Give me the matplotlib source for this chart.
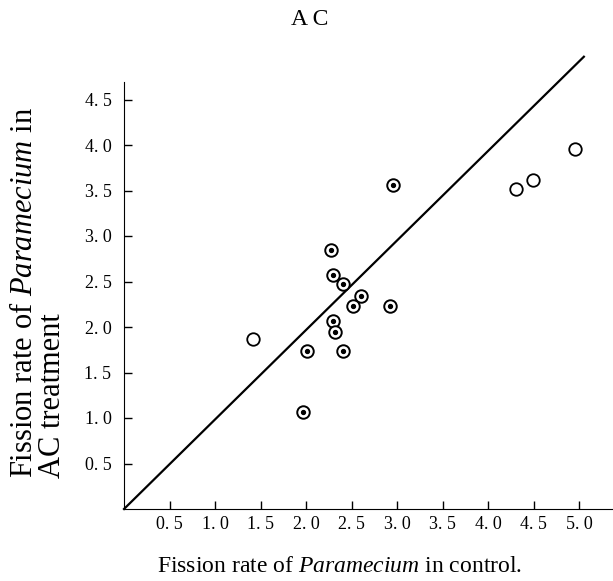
import numpy as np
import matplotlib.pyplot as plt

plt.rcParams['font.family'] = ['Liberation Serif', 'DejaVu Serif']
plt.rcParams['mathtext.fontset'] = 'custom'
plt.rcParams['mathtext.it'] = 'Liberation Serif:italic'
plt.rcParams['mathtext.rm'] = 'Liberation Serif'

# open circles
open_x = [1.42, 4.31, 4.49, 4.95]
open_y = [1.87, 3.52, 3.62, 3.96]

# circles with a dot in the middle
dot_x = [2.95, 2.27, 2.30, 2.40, 2.60, 2.51, 2.92, 2.30, 2.32, 2.01, 2.40, 1.97]
dot_y = [3.56, 2.85, 2.57, 2.47, 2.34, 2.23, 2.23, 2.07, 1.95, 1.74, 1.74, 1.07]

# 1:1 reference line
line_x = [0.0, 5.05]
line_y = [0.0, 4.97]

ticks = [0.5, 1.0, 1.5, 2.0, 2.5, 3.0, 3.5, 4.0, 4.5, 5.0]
xtick_labels = ['0. 5', '1. 0', '1. 5', '2. 0', '2. 5', '3. 0', '3. 5', '4. 0', '4. 5', '5. 0']
yticks = ticks[:-1]
ytick_labels = xtick_labels[:-1]

fig = plt.figure(figsize=(6.13, 5.81), dpi=100)
ax = fig.add_axes([124/613, 72/581, 489/613, 455/581])

ax.plot(line_x, line_y, color='black', lw=1.6, clip_on=False)
ax.plot(open_x, open_y, 'o', ms=9, mfc='white', mec='black', mew=1.3, clip_on=False)
ax.plot(dot_x, dot_y, 'o', ms=9, mfc='white', mec='black', mew=1.4)
ax.plot(dot_x, dot_y, 'o', ms=2.8, color='black')

ax.set_xlim(0, 5.37)
ax.set_ylim(0, 5.0)
ax.spines['top'].set_visible(False)
ax.spines['right'].set_visible(False)
ax.spines['left'].set_bounds(0, 4.69)

ax.set_xticks(ticks)
ax.set_xticklabels(xtick_labels, fontsize=13)
ax.set_yticks(yticks)
ax.set_yticklabels(ytick_labels, fontsize=13)
ax.tick_params(direction='in', length=6, width=1)
ax.tick_params(axis='y', pad=9)
ax.tick_params(axis='x', pad=5)

fig.text(340/613, 1 - 566/581, 'Fission rate of $\\it{Paramecium}$ in control.',
         ha='center', va='center', fontsize=17)
fig.text(10/613, 103/581, 'Fission rate of $\\it{Paramecium}$ in\nAC treatment',
         rotation=90, ha='left', va='bottom', multialignment='left',
         fontsize=22, linespacing=0.95)

fig.text(0.505, 0.967, 'A C', ha='center', va='center', fontsize=17)

fig.savefig('out.png', dpi=100)
